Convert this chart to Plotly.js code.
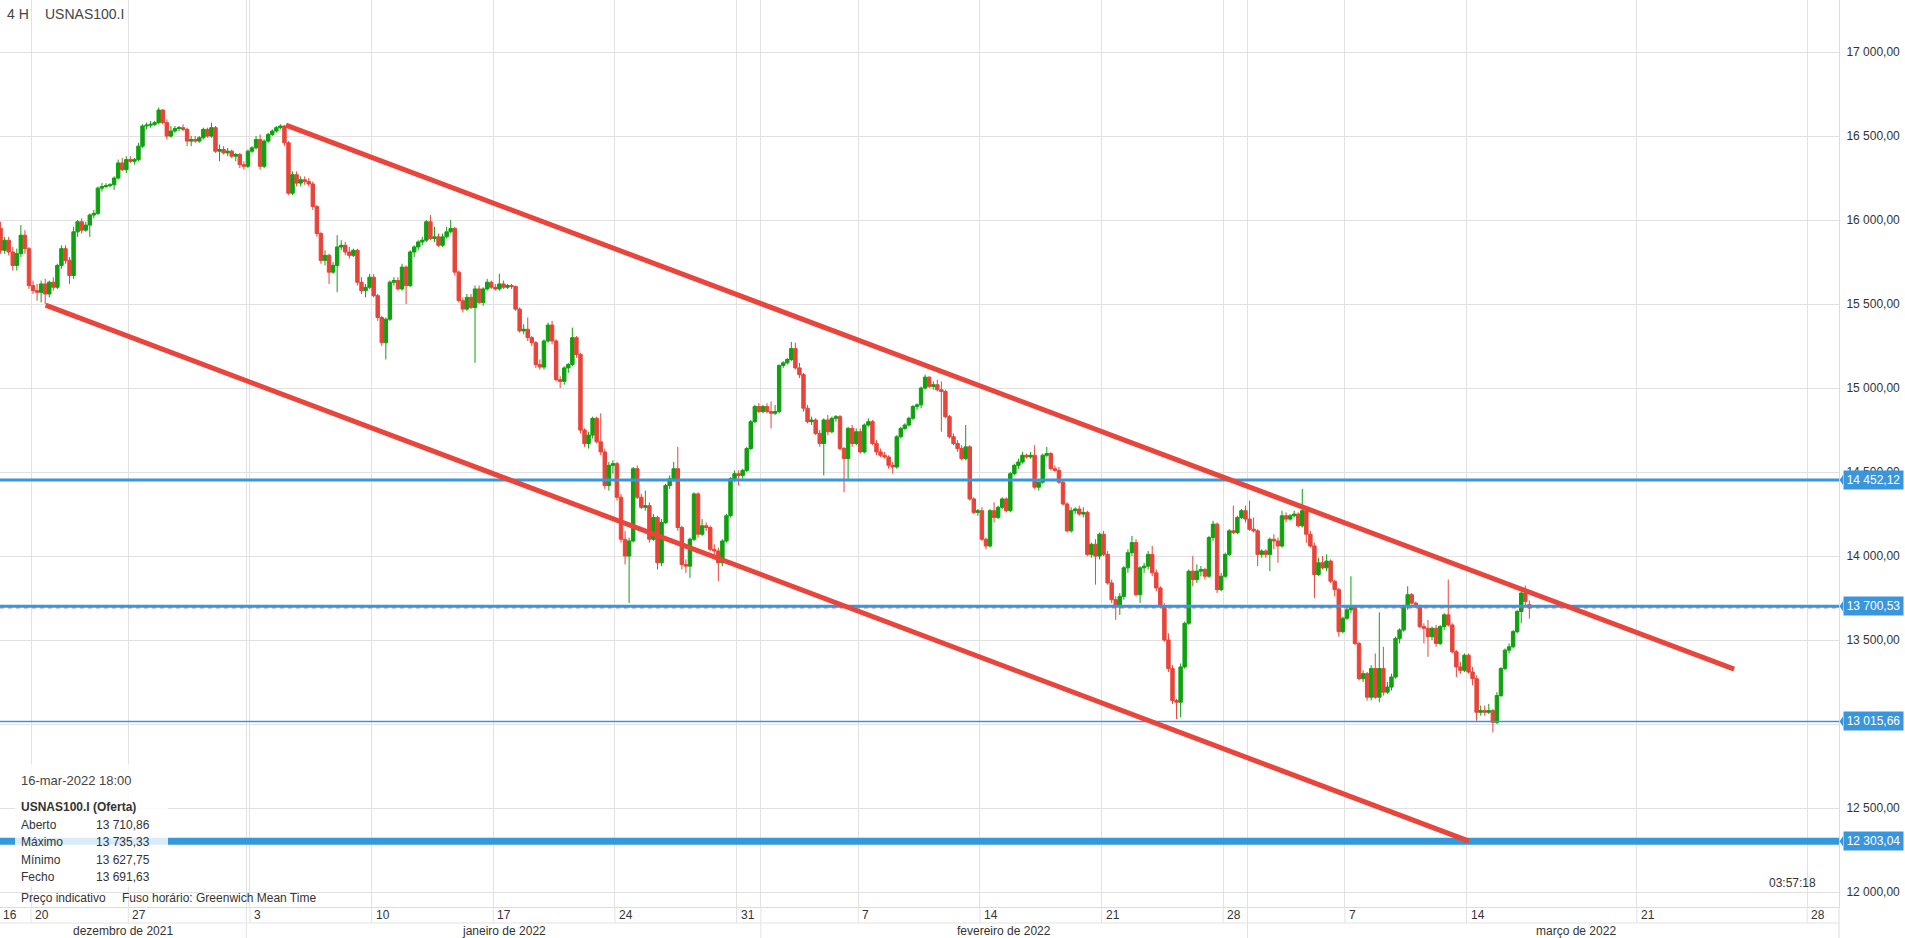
<!DOCTYPE html>
<html><head><meta charset="utf-8">
<script src="https://cdn.plot.ly/plotly-3.0.1.min.js"></script>
<style>html,body{margin:0;padding:0;background:#fff;}#chart{width:1905px;height:938px;}</style>
</head><body><div id="chart"></div>
<script>
// ---- trading days shown (4H bars, weekends and Dec 24 absent) ----
const tradingDays = [
'2021-12-16','2021-12-17','2021-12-20','2021-12-21','2021-12-22','2021-12-23',
'2021-12-27','2021-12-28','2021-12-29','2021-12-30','2021-12-31',
'2022-01-03','2022-01-04','2022-01-05','2022-01-06','2022-01-07',
'2022-01-10','2022-01-11','2022-01-12','2022-01-13','2022-01-14',
'2022-01-17','2022-01-18','2022-01-19','2022-01-20','2022-01-21',
'2022-01-24','2022-01-25','2022-01-26','2022-01-27','2022-01-28',
'2022-01-31','2022-02-01','2022-02-02','2022-02-03','2022-02-04',
'2022-02-07','2022-02-08','2022-02-09','2022-02-10','2022-02-11',
'2022-02-14','2022-02-15','2022-02-16','2022-02-17','2022-02-18',
'2022-02-21','2022-02-22','2022-02-23','2022-02-24','2022-02-25',
'2022-02-28','2022-03-01','2022-03-02','2022-03-03','2022-03-04',
'2022-03-07','2022-03-08','2022-03-09','2022-03-10','2022-03-11',
'2022-03-14','2022-03-15','2022-03-16'];

const barOpen = [
15950,15820,
15880,15810,15730,15800,15910,15830,
15610,15580,15570,15620,15560,15630,
15600,15730,15830,15760,15670,15930,
15990,15940,15970,16030,16040,16190,
16200,16205,16210,16250,16340,16300,
16360,16350,16360,16440,16560,16565,
16570,16580,16655,16580,16500,16530,
16545,16550,16540,16470,16480,16470,
16490,16540,16500,16550,16410,16420,
16400,16410,16380,16390,16330,16320,
16410,16430,16480,16320,16470,16510,
16530,16550,16560,16460,16160,16270,
16220,16240,16230,16215,16080,15920,
15760,15790,15690,15730,15840,15850,
15810,15790,15820,15630,15580,15600,
15660,15550,15420,15270,15410,15630,
15640,15590,15720,15610,15810,15840,
15870,15880,15990,15890,15900,15850,
15900,15930,15950,15690,15520,15470,
15540,15480,15590,15510,15590,15630,
15600,15590,15620,15600,15610,15605,
15470,15340,15350,15300,15270,15140,
15125,15280,15375,15280,15050,15040,
15120,15140,15300,15200,14750,14670,
14720,14820,14680,14620,14420,14540,
14550,14350,14100,14000,14090,14520,
14350,14290,14300,14100,14230,13960,
14200,14420,14460,14520,14170,13950,
13940,14100,14370,14130,14180,14170,
14040,14030,13960,14090,14240,14460,
14490,14480,14510,14640,14800,14890,
14860,14890,14860,14850,14860,15135,
15150,15170,15235,15120,15080,14880,
14800,14810,14730,14670,14810,14740,
14820,14830,14640,14580,14760,14670,
14740,14620,14780,14800,14670,14620,
14600,14590,14540,14530,14710,14760,
14780,14820,14890,14900,15000,15065,
15010,15020,14990,14980,14830,14710,
14670,14640,14580,14650,14340,14260,
14270,14100,14060,14270,14230,14290,
14340,14270,14490,14540,14560,14600,
14590,14600,14410,14440,14600,14610,
14520,14510,14440,14310,14150,14270,
14280,14250,14260,14010,14070,14000,
14130,14010,13840,13740,13700,13760,
13930,14020,14080,13770,13930,13940,
14010,13900,13810,13700,13500,13330,
13140,13130,13340,13600,13910,13860,
13910,13920,13880,14110,14190,13800,
13880,14010,14150,14140,14230,14270,
14220,14160,14150,14010,14030,14010,
14100,14090,14060,14240,14220,14240,
14250,14180,14270,14130,14060,13890,
13960,13930,13970,13850,13800,13550,
13630,13680,13700,13480,13270,13300,
13160,13330,13160,13330,13190,13220,
13280,13510,13560,13700,13770,13720,
13700,13580,13570,13520,13570,13480,
13580,13650,13590,13430,13340,13320,
13410,13310,13270,13070,13080,13070,
13080,13010,13170,13330,13440,13460,
13550,13670,13780,13710.86];

const barHigh = [
15990,15900,
15900,15840,15830,15970,15940,15840,
15640,15620,15640,15650,15640,15660,
15740,15850,15850,15780,15960,16000,
16010,15990,16040,16060,16200,16220,
16220,16220,16260,16360,16370,16380,
16380,16370,16460,16570,16580,16590,
16590,16670,16660,16600,16560,16560,
16560,16570,16550,16500,16500,16500,
16550,16550,16580,16560,16450,16440,
16430,16420,16400,16400,16350,16420,
16440,16500,16510,16480,16520,16540,
16560,16570,16565,16470,16290,16290,
16260,16260,16250,16230,16090,15930,
15820,15800,15750,15910,15880,15870,
15840,15830,15830,15660,15620,15680,
15680,15560,15430,15420,15640,15660,
15660,15740,15730,15820,15850,15880,
15900,16000,16030,15960,15920,15920,
15960,16000,15960,15700,15540,15560,
15560,15610,15610,15600,15650,15640,
15620,15680,15640,15620,15620,15610,
15480,15380,15420,15310,15280,15170,
15290,15390,15400,15290,15070,15130,
15150,15360,15310,15210,14760,14740,
14830,14830,14850,14640,14560,14570,
14560,14370,14150,14110,14530,14540,
14370,14390,14320,14250,14240,14220,
14430,14480,14560,14650,14180,13980,
14110,14380,14380,14220,14200,14180,
14070,14050,14100,14250,14470,14510,
14510,14520,14650,14810,14900,14910,
14900,14910,14920,14900,15140,15160,
15180,15275,15270,15150,15090,14900,
14830,14820,14750,14820,14840,14830,
14840,14840,14650,14770,14780,14760,
14760,14790,14820,14810,14690,14640,
14620,14600,14560,14720,14770,14790,
14830,14900,14910,15010,15080,15070,
15040,15050,15040,14990,14840,14730,
14690,14660,14780,14660,14350,14280,
14290,14110,14280,14320,14300,14350,
14350,14500,14550,14580,14620,14610,
14620,14660,14460,14610,14650,14620,
14540,14530,14450,14320,14290,14290,
14300,14290,14270,14080,14100,14140,
14150,14030,13860,13760,13780,13940,
14040,14120,14100,13940,13960,14030,
14060,13920,13820,13720,13540,13350,
13150,13360,13610,13920,14000,13950,
13940,13930,14120,14210,14200,13900,
14020,14160,14300,14240,14280,14300,
14330,14230,14160,14040,14040,14110,
14130,14110,14270,14260,14250,14270,
14260,14400,14280,14150,14080,13990,
14000,14010,13980,13860,13810,13640,
13700,13880,13710,13490,13320,13310,
13350,13420,13665,13460,13250,13300,
13520,13570,13710,13820,13780,13730,
13710,13600,13620,13580,13590,13590,
13660,13860,13600,13440,13370,13420,
13420,13340,13290,13110,13110,13120,
13090,13190,13340,13450,13480,13560,
13680,13790,13825,13735.33];

const barLow = [
15800,15800,
15790,15700,15700,15780,15800,15590,
15560,15520,15510,15500,15540,15580,
15590,15710,15740,15620,15650,15900,
15920,15930,15900,16010,16030,16170,
16190,16195,16180,16240,16290,16280,
16340,16330,16350,16430,16540,16550,
16560,16570,16570,16480,16490,16520,
16530,16530,16440,16440,16460,16460,
16480,16490,16490,16400,16350,16390,
16380,16370,16350,16310,16300,16310,
16400,16420,16300,16310,16460,16500,
16520,16540,16440,16150,16150,16200,
16200,16210,16200,16060,15900,15740,
15730,15620,15680,15570,15820,15790,
15770,15780,15610,15560,15540,15590,
15540,15400,15250,15170,15400,15610,
15580,15580,15500,15600,15780,15820,
15850,15870,15880,15870,15840,15840,
15890,15920,15670,15510,15450,15460,
15470,15150,15500,15490,15580,15590,
15580,15580,15590,15590,15590,15460,
15330,15320,15280,15250,15120,15110,
15110,15270,15260,15040,15000,15020,
15090,15130,15180,14730,14650,14640,
14700,14670,14600,14400,14390,14490,
14330,14080,13950,13720,14080,14340,
14280,14270,14080,14090,13920,13940,
14190,14400,14440,14150,13920,13900,
13870,14090,14110,14120,14150,14030,
14000,13850,13940,14080,14230,14440,
14420,14460,14500,14630,14790,14850,
14850,14850,14760,14840,14850,15120,
15140,15160,15110,15060,14860,14790,
14780,14720,14650,14480,14720,14730,
14800,14630,14380,14460,14650,14660,
14610,14610,14770,14660,14600,14590,
14580,14520,14490,14520,14700,14750,
14770,14810,14870,14880,14990,15000,
14990,14980,14740,14820,14700,14660,
14620,14570,14570,14330,14250,14240,
14090,14040,14050,14200,14220,14280,
14260,14260,14480,14520,14550,14580,
14580,14400,14390,14430,14590,14510,
14500,14430,14300,14140,14140,14250,
14240,14230,14000,13990,13830,13980,
14000,13830,13720,13620,13650,13740,
13900,14000,13760,13720,13900,13920,
13880,13790,13690,13490,13310,13120,
13030,13040,13330,13590,13820,13840,
13880,13860,13870,14090,13780,13790,
13870,14000,14130,14130,14220,14200,
14150,14140,13940,13990,13990,13910,
14040,13960,14050,14200,14210,14230,
14170,14170,14080,14050,13750,13880,
13920,13910,13840,13760,13520,13540,
13620,13660,13470,13260,13250,13140,
13140,13150,13130,13170,13180,13200,
13270,13480,13550,13680,13710,13690,
13570,13480,13400,13500,13460,13470,
13560,13580,13420,13280,13300,13310,
13300,13230,13020,13050,13050,13060,
12950,13000,13160,13320,13420,13450,
13540,13600,13700,13627.75];

const barClose = [
15820,15880,
15810,15730,15800,15910,15830,15610,
15580,15570,15620,15560,15630,15600,
15730,15830,15760,15670,15930,15990,
15940,15970,16030,16040,16190,16200,
16205,16210,16250,16340,16300,16360,
16350,16360,16440,16560,16565,16570,
16580,16655,16580,16500,16530,16545,
16550,16540,16470,16480,16470,16490,
16540,16500,16550,16410,16420,16400,
16410,16380,16390,16330,16320,16410,
16430,16480,16320,16470,16510,16530,
16550,16560,16460,16160,16270,16220,
16240,16230,16215,16080,15920,15760,
15790,15690,15730,15840,15850,15810,
15790,15820,15630,15580,15600,15660,
15550,15420,15270,15410,15630,15640,
15590,15720,15610,15810,15840,15870,
15880,15990,15890,15900,15850,15900,
15930,15950,15690,15520,15470,15540,
15480,15590,15510,15590,15630,15600,
15590,15620,15600,15610,15605,15470,
15340,15350,15300,15270,15140,15125,
15280,15375,15280,15050,15040,15120,
15140,15300,15200,14750,14670,14720,
14820,14680,14620,14420,14540,14550,
14350,14100,14000,14090,14520,14350,
14290,14300,14100,14230,13960,14200,
14420,14460,14520,14170,13950,13940,
14100,14370,14130,14180,14170,14040,
14030,13960,14090,14240,14460,14490,
14480,14510,14640,14800,14890,14860,
14890,14860,14850,14860,15135,15150,
15170,15235,15120,15080,14880,14800,
14810,14730,14670,14810,14740,14820,
14830,14640,14580,14760,14670,14740,
14620,14780,14800,14670,14620,14600,
14590,14540,14530,14710,14760,14780,
14820,14890,14900,15000,15065,15010,
15020,14990,14980,14830,14710,14670,
14640,14580,14650,14340,14260,14270,
14100,14060,14270,14230,14290,14340,
14270,14490,14540,14560,14600,14590,
14600,14410,14440,14600,14610,14520,
14510,14440,14310,14150,14270,14280,
14250,14260,14010,14070,14000,14130,
14010,13840,13740,13700,13760,13930,
14020,14080,13770,13930,13940,14010,
13900,13810,13700,13500,13330,13140,
13130,13340,13600,13910,13860,13910,
13920,13880,14110,14190,13800,13880,
14010,14150,14140,14230,14270,14220,
14160,14150,14010,14030,14010,14100,
14090,14060,14240,14220,14240,14250,
14180,14270,14130,14060,13890,13960,
13930,13970,13850,13800,13550,13630,
13680,13700,13480,13270,13300,13160,
13330,13160,13330,13190,13220,13280,
13510,13560,13700,13770,13720,13700,
13580,13570,13520,13570,13480,13580,
13650,13590,13430,13340,13320,13410,
13310,13270,13070,13080,13070,13080,
13010,13170,13330,13440,13460,13550,
13670,13780,13730,13691.63];

// ---- axis ticks / labels ----
const yTicks = [12000,12500,13000,13500,14000,14500,15000,15500,16000,16500,17000];
const weekTicks = ['2021-12-20','2021-12-27','2022-01-03','2022-01-10','2022-01-17','2022-01-24',
  '2022-01-31','2022-02-07','2022-02-14','2022-02-21','2022-02-28','2022-03-07','2022-03-14',
  '2022-03-21','2022-03-28'];
const monthStarts = ['2022-01-01','2022-02-01','2022-03-01'];
const monthNames = ['dezembro de 2021','janeiro de 2022','fevereiro de 2022','março de 2022'];
const monthBounds = ['2021-12-01','2022-01-01','2022-02-01','2022-03-01','2022-04-01'];

// ---- horizontal levels and channel ----
const levelPrices = [14452.12, 13700.53, 13015.66, 12303.04];
const levelLabels = ['14 452,12','13 700,53','13 015,66','12 303,04'];
const levelWidths = [3, 3, 1.5, 7];
const lastPrice = 13691.63;
const upperLineTimes = ['2022-01-04T11:30','2022-03-25T00:00'];
const upperLinePrices = [16565, 13327];
const lowerLineTimes = ['2021-12-20T14:24','2022-03-14T02:24'];
const lowerLinePrices = [15494, 12303];

// ---- info panel ----
const infoDate = '16-mar-2022 18:00';
const infoTitle = 'USNAS100.I (Oferta)';
const infoNames = ['Aberto','Máximo','Mínimo','Fecho'];
const infoValues = ['13 710,86','13 735,33','13 627,75','13 691,63'];

// ---------------------------------------------------------------
const DAY = 86400000;
const lastDay = tradingDays.length - 1;
function dayIndex(t) {
  const d = t.slice(0, 10);
  let frac = 0;
  if (t.length > 10) { const hh = +t.slice(11, 13), mm = +t.slice(14, 16); frac = (hh + mm / 60) / 24; }
  const i = tradingDays.indexOf(d);
  if (i >= 0) return i + frac;
  const ms = Date.parse(d + 'T00:00:00Z');
  const lastMs = Date.parse(tradingDays[lastDay] + 'T00:00:00Z');
  if (ms > lastMs) return lastDay + (ms - lastMs) / DAY + frac;
  if (ms < Date.parse(tradingDays[0] + 'T00:00:00Z')) return -1;
  for (let k = 0; k < tradingDays.length; k++) {
    if (Date.parse(tradingDays[k] + 'T00:00:00Z') > ms) return k - 0.15;
  }
  return lastDay;
}

// bar x positions: 6 four-hour slots per trading day
const xs = [];
for (let d = 0; d < tradingDays.length; d++) {
  const start = d === 0 ? 4 : 0;
  const count = d === 0 ? 2 : (d === lastDay ? 4 : 6);
  for (let k = start; k < start + count; k++) xs.push(d + (k + 0.5) / 6);
}

const W = 1905, H = 938, ML = 0, MR = 66, MT = 0, MB = 31;
const PW = W - ML - MR, PH = H - MT - MB;
const XR = [0.726, 76.31], YR = [11911, 17310];
const px = p => p / PW;             // pixel -> paper x
const py = p => (PH - p) / PH;      // pixel -> paper y
const pyData = p => p * (YR[1] - YR[0]) / PH;

const weekX = weekTicks.map(dayIndex);
const sepX = monthStarts.map(dayIndex);

const shapes = [];
const annotations = [];
const BLUE = '#3a96dc', RED = '#e8453c', GRID = '#e2e2e2';

// red dashed current price
shapes.push({type:'line', xref:'paper', yref:'y', x0:0, x1:1, y0:lastPrice, y1:lastPrice,
  line:{color:RED, width:1, dash:'4px,4px'}, layer:'above'});
// blue levels
levelPrices.forEach((p, i) => {
  shapes.push({type:'line', xref:'paper', yref:'y', x0:0, x1:1, y0:p, y1:p,
    line:{color: i === 3 ? '#3498db' : BLUE, width:levelWidths[i]}, layer:'above'});
});
// channel lines
shapes.push({type:'line', xref:'x', yref:'y', x0:dayIndex(upperLineTimes[0]), x1:dayIndex(upperLineTimes[1]),
  y0:upperLinePrices[0], y1:upperLinePrices[1], line:{color:RED, width:5}, layer:'above'});
shapes.push({type:'line', xref:'x', yref:'y', x0:dayIndex(lowerLineTimes[0]), x1:dayIndex(lowerLineTimes[1]),
  y0:lowerLinePrices[0], y1:lowerLinePrices[1], line:{color:RED, width:5}, layer:'above'});
// info panel background
shapes.push({type:'rect', xref:'paper', yref:'paper', x0:px(15), x1:px(168), y0:py(887), y1:py(764),
  fillcolor:'rgba(255,255,255,0.82)', line:{width:0}, layer:'above'});
// label notches
levelPrices.forEach(p => {
  const d = pyData(5);
  shapes.push({type:'path', xref:'paper', yref:'y',
    path:`M ${1 + px(0.5)},${p} L ${1 + px(4)},${p + d} L ${1 + px(4)},${p - d} Z`,
    fillcolor:BLUE, line:{width:0}, layer:'above'});
});
// axis strip: separators
weekX.concat([dayIndex('2021-12-16')]).forEach(x => {
  shapes.push({type:'line', xref:'x', yref:'paper', x0:x, x1:x, y0:py(923), y1:0,
    line:{color:GRID, width:1}});
});
sepX.forEach(x => {
  shapes.push({type:'line', xref:'x', yref:'paper', x0:x, x1:x, y0:py(938), y1:0,
    line:{color:GRID, width:1}});
});
shapes.push({type:'line', xref:'paper', yref:'paper', x0:0, x1:1, y0:py(923), y1:py(923),
  line:{color:GRID, width:1}});
shapes.push({type:'line', xref:'paper', yref:'paper', x0:1, x1:1, y0:py(938), y1:0,
  line:{color:'#dcdcdc', width:1}});

// day labels
weekTicks.forEach((t, i) => {
  annotations.push({xref:'x', yref:'paper', x:weekX[i], y:py(915), xanchor:'left', yanchor:'middle',
    xshift:2, text:String(+t.slice(8, 10)), showarrow:false, font:{size:12, color:'#333'}});
});
annotations.push({xref:'paper', yref:'paper', x:0, y:py(915), xanchor:'left', yanchor:'middle',
  xshift:1, text:'16', showarrow:false, font:{size:12, color:'#333'}});
// month labels
monthNames.forEach((m, i) => {
  let a = Math.max(dayIndex(monthBounds[i]), XR[0]);
  if (dayIndex(monthBounds[i]) < 0) a = XR[0];
  const b = dayIndex(monthBounds[i + 1]);
  annotations.push({xref:'x', yref:'paper', x:(a + b) / 2, y:py(930.5), xanchor:'center', yanchor:'middle',
    text:m, showarrow:false, font:{size:12, color:'#333'}});
});
// header
annotations.push({xref:'paper', yref:'paper', x:px(5), y:py(14), xanchor:'left', yanchor:'middle',
  text:'4 H', showarrow:false, font:{size:14, color:'#444'}});
annotations.push({xref:'paper', yref:'paper', x:px(43), y:py(14), xanchor:'left', yanchor:'middle',
  text:'USNAS100.I', showarrow:false, font:{size:14, color:'#444'}});
// level boxes
levelPrices.forEach((p, i) => {
  annotations.push({xref:'paper', yref:'y', x:1, y:p, xanchor:'left', yanchor:'middle', xshift:4,
    text:levelLabels[i], showarrow:false, bgcolor:BLUE, borderpad:2, width:55,
    font:{size:12, color:'#fff'}});
});
// info panel text
annotations.push({xref:'paper', yref:'paper', x:px(19), y:py(780), xanchor:'left', yanchor:'middle',
  text:infoDate, showarrow:false, font:{size:13, color:'#444'}});
annotations.push({xref:'paper', yref:'paper', x:px(19), y:py(807), xanchor:'left', yanchor:'middle',
  text:'<b>' + infoTitle + '</b>', showarrow:false, font:{size:12, color:'#333'}});
infoNames.forEach((n, i) => {
  const yy = 825 + i * 17.3;
  annotations.push({xref:'paper', yref:'paper', x:px(19), y:py(yy), xanchor:'left', yanchor:'middle',
    text:n, showarrow:false, font:{size:12, color:'#333'}});
  annotations.push({xref:'paper', yref:'paper', x:px(94), y:py(yy), xanchor:'left', yanchor:'middle',
    text:infoValues[i], showarrow:false, font:{size:12, color:'#333'}});
});
annotations.push({xref:'paper', yref:'paper', x:px(19), y:py(898), xanchor:'left', yanchor:'middle',
  text:'Preço indicativo', showarrow:false, font:{size:12, color:'#333'}});
annotations.push({xref:'paper', yref:'paper', x:px(120), y:py(898), xanchor:'left', yanchor:'middle',
  text:'Fuso horário: Greenwich Mean Time', showarrow:false, font:{size:12, color:'#333'}});
annotations.push({xref:'paper', yref:'paper', x:px(1818), y:py(883), xanchor:'right', yanchor:'middle',
  text:'03:57:18', showarrow:false, font:{size:12, color:'#333'}});

const gridX = weekX.concat(sepX);

const trace = {
  type:'candlestick', x:xs, open:barOpen, high:barHigh, low:barLow, close:barClose,
  increasing:{line:{color:'#0ea20e', width:1}, fillcolor:'#0ea20e'},
  decreasing:{line:{color:'#e8443a', width:1}, fillcolor:'#e8443a'},
  whiskerwidth:0, hoverinfo:'skip', showlegend:false
};

const layout = {
  width:W, height:H, margin:{l:ML, r:MR, t:MT, b:MB, pad:0},
  paper_bgcolor:'#fff', plot_bgcolor:'#fff', separators:', ', showlegend:false,
  boxgap:0.15, boxgroupgap:0,
  font:{family:'Liberation Sans, Arial, sans-serif', size:12, color:'#333'},
  xaxis:{range:XR, rangeslider:{visible:false}, tickvals:gridX, showticklabels:false, ticks:'',
    showgrid:true, gridcolor:GRID, gridwidth:1, zeroline:false, showline:true, linecolor:'#dcdcdc',
    linewidth:1, fixedrange:true},
  yaxis:{range:YR, side:'right', tickvals:yTicks, tickformat:',.2f', ticks:'', showgrid:true,
    gridcolor:GRID, gridwidth:1, zeroline:false, showline:true, linecolor:'#dcdcdc', linewidth:1,
    ticklabelstandoff:4, tickfont:{size:12, color:'#333'}, fixedrange:true},
  shapes:shapes, annotations:annotations
};

Plotly.newPlot('chart', [trace], layout, {displayModeBar:false, staticPlot:true});
</script>
</body></html>
